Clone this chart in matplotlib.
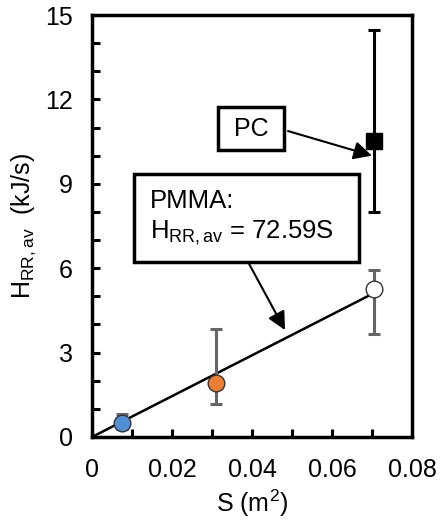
import matplotlib
matplotlib.use("Agg")
import matplotlib.pyplot as plt
import numpy as np
from matplotlib.ticker import MultipleLocator
from matplotlib.patches import Rectangle

plt.rcParams['font.family'] = ['Liberation Sans', 'DejaVu Sans']
plt.rcParams['mathtext.fontset'] = 'custom'
plt.rcParams['mathtext.rm'] = 'Liberation Sans'
plt.rcParams['mathtext.it'] = 'Liberation Sans'

# PMMA samples
pmma_s = [0.0075, 0.031, 0.0705]
pmma_h = [0.5, 1.92, 5.27]
pmma_lo = [0.3, 1.17, 3.66]
pmma_hi = [0.8, 3.84, 5.94]
pmma_colors = ['#4f8fd6', '#ed7d31', 'white']

# PC sample
pc_s = [0.0705]
pc_h = [10.52]
pc_lo = [8.0]
pc_hi = [14.45]

slope = 72.59

fig = plt.figure(figsize=(4.4, 5.24), dpi=100)
ax = fig.add_axes([92/440, 1 - 437/524, 320/440, 422/524])

# fit line
xs = np.array([0, max(pmma_s)])
ax.plot(xs, slope * xs, color='black', lw=1.8, zorder=2)

for s, h, lo, hi, c in zip(pmma_s, pmma_h, pmma_lo, pmma_hi, pmma_colors):
    ax.errorbar(s, h, yerr=[[h - lo], [hi - h]], fmt='none', ecolor='#666666',
                elinewidth=2.2, capsize=4, capthick=2.2, zorder=3)
    ax.plot(s, h, 'o', ms=12, mfc=c, mec='#333333', mew=1.0, zorder=4)

for s, h, lo, hi in zip(pc_s, pc_h, pc_lo, pc_hi):
    ax.errorbar(s, h, yerr=[[h - lo], [hi - h]], fmt='none', ecolor='black',
                elinewidth=2.2, capsize=4, capthick=2.2, zorder=3)
    ax.plot(s, h, 's', ms=11, color='black', zorder=4)

ax.set_xlim(0, 0.08)
ax.set_ylim(0, 15)
ax.set_xticks([0, 0.02, 0.04, 0.06, 0.08])
ax.set_xticklabels(['0', '0.02', '0.04', '0.06', '0.08'])
ax.xaxis.set_minor_locator(MultipleLocator(0.01))
ax.yaxis.set_major_locator(MultipleLocator(3))
ax.yaxis.set_minor_locator(MultipleLocator(1))
ax.tick_params(which='both', direction='in', width=2.2, length=6, labelsize=18)
ax.tick_params(axis='x', pad=15)
ax.tick_params(axis='y', pad=14)
for sp in ax.spines.values():
    sp.set_linewidth(2.5)

ax.set_xlabel('S (m$^2$)', fontsize=18, labelpad=4)
ax.set_ylabel(r'H$_{\mathrm{RR,av}}$  (kJ/s)', fontsize=18, labelpad=5)

arr = dict(arrowstyle='-|>,head_length=1.1,head_width=0.55', color='black',
           lw=1.5, shrinkA=0, shrinkB=0)

# PC label box
ax.add_patch(Rectangle((0.394, 0.680), 0.206, 0.102, transform=ax.transAxes,
                       fc='white', ec='black', lw=2.5, zorder=5))
ax.text(0.497, 0.731, 'PC', transform=ax.transAxes, fontsize=18,
        ha='center', va='center', zorder=6)
ax.annotate('', xy=(0.0700, 10.0), xytext=(0.6125, 0.725),
            textcoords='axes fraction', arrowprops=arr, zorder=6)

# PMMA label box
ax.add_patch(Rectangle((0.131, 0.415), 0.703, 0.208, transform=ax.transAxes,
                       fc='white', ec='black', lw=2.5, zorder=5))
ax.text(0.181, 0.519, 'PMMA:\nH$_{\\mathrm{RR,av}}$ = 72.59S',
        transform=ax.transAxes, fontsize=18.5, ha='left', va='center',
        linespacing=1.25, zorder=6)
ax.annotate('', xy=(0.04825, 3.80), xytext=(0.4875, 0.415),
            textcoords='axes fraction', arrowprops=arr, zorder=6)

fig.savefig('out.png', dpi=100)
